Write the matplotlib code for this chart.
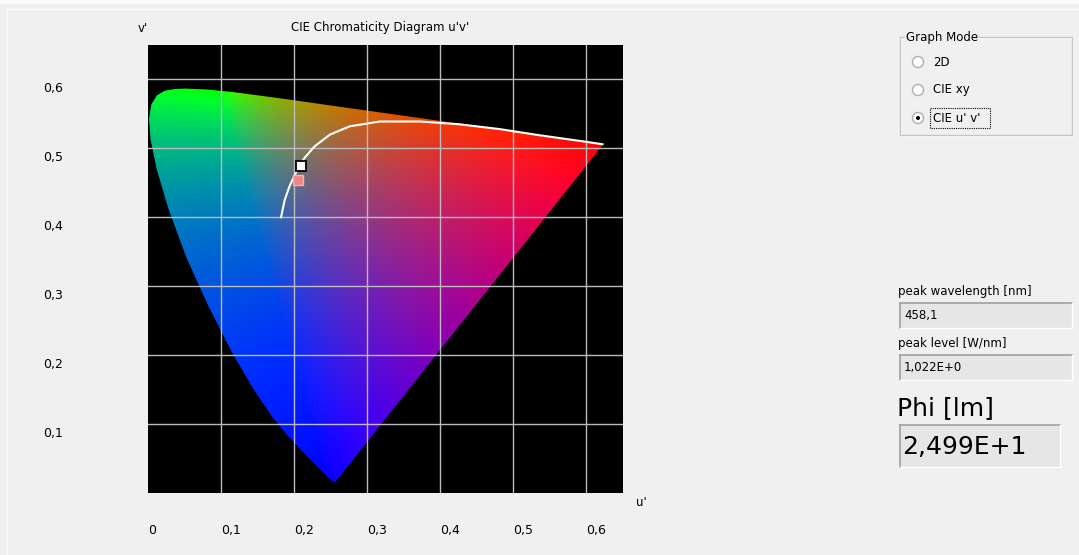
import numpy as np
import matplotlib.pyplot as plt
from matplotlib.path import Path
from matplotlib.patches import PathPatch, Rectangle, Circle
from matplotlib.transforms import ScaledTranslation

# ---------------------------------------------------------------------------------------------------------------
# daten

# spektralzug in u'v' (380 nm ... 700 nm)
locus_u = [0.2568, 0.2557, 0.2522, 0.2461, 0.2347, 0.2161, 0.1877, 0.1690, 0.1441, 0.1147, 0.0828, 0.0521,
           0.0282, 0.0119, 0.0035, 0.0014, 0.0046, 0.0123, 0.0231, 0.0360, 0.0501, 0.0792, 0.1127, 0.1531,
           0.2026, 0.2623, 0.3315, 0.4035, 0.5203, 0.6005, 0.6234]
locus_v = [0.0166, 0.0159, 0.0169, 0.0226, 0.0350, 0.0549, 0.0871, 0.1119, 0.1510, 0.2044, 0.2708, 0.3427,
           0.4117, 0.4698, 0.5131, 0.5431, 0.5638, 0.5770, 0.5837, 0.5861, 0.5868, 0.5856, 0.5821, 0.5766,
           0.5694, 0.5604, 0.5501, 0.5393, 0.5219, 0.5099, 0.5065]

# planckscher kurvenzug (weisse linie)
planck_u = [0.182, 0.187, 0.194, 0.204, 0.214, 0.228, 0.249, 0.276, 0.317, 0.372, 0.426, 0.481, 0.536, 0.590, 0.622]
planck_v = [0.400, 0.425, 0.446, 0.468, 0.486, 0.503, 0.520, 0.532, 0.539, 0.539, 0.535, 0.528, 0.519, 0.511, 0.506]

# messpunkt (weiss) und referenzpunkt (rosa)
punkt_u, punkt_v = 0.210, 0.474
ref_u, ref_v = 0.205, 0.454

# achsen
u_ticks = [0, 0.1, 0.2, 0.3, 0.4, 0.5, 0.6]
u_labels = ["0", "0,1", "0,2", "0,3", "0,4", "0,5", "0,6"]
v_ticks = [0.1, 0.2, 0.3, 0.4, 0.5, 0.6]
v_labels = ["0,1", "0,2", "0,3", "0,4", "0,5", "0,6"]
achsen_max = 0.65

# rechte seite
modi = ["2D", "CIE xy", "CIE u' v'"]
modus_aktiv = 2
felder = ["peak wavelength [nm]", "peak level [W/nm]"]
feld_werte = ["458,1", "1,022E+0"]
phi_titel = "Phi [lm]"
phi_wert = "2,499E+1"

# ---------------------------------------------------------------------------------------------------------------
# farbfeld u'v' -> xy -> XYZ -> CIE rgb

n = 600
uu, vv = np.meshgrid(np.linspace(0, achsen_max, n), np.linspace(0, achsen_max, n))
nenner = 6 * uu - 16 * vv + 12
x = 9 * uu / nenner
y = np.maximum(4 * vv / nenner, 1e-6)
XYZ = np.stack([x / y, np.ones_like(x), (1 - x - y) / y])
M = np.array([[2.3646, -0.8965, -0.4681],
              [-0.5152, 1.4264, 0.0888],
              [0.0052, -0.0144, 1.0092]])
rgb = np.einsum('ij,jkl->kli', M, XYZ)
rgb = np.clip(rgb, 0, None)
rgb = rgb / (rgb.sum(axis=2, keepdims=True) + 1e-9)
rgb = np.clip(1.1 * rgb ** (1 / 1.2), 0, 1)

# ---------------------------------------------------------------------------------------------------------------
# figur

fig = plt.figure(figsize=(10.79, 5.55), dpi=100, facecolor='#f0f0f0')
plt.rcParams['font.family'] = 'DejaVu Sans'

# oberflaeche in pixelkoordinaten
ui = fig.add_axes([0, 0, 1, 1])
ui.set_xlim(0, 1079)
ui.set_ylim(555, 0)
ui.axis('off')
ui.add_patch(Rectangle((0, 0), 1079, 4, fc='#fbfbfb', ec='none'))
ui.plot([7, 1079], [9, 9], color='#fbfbfb', lw=1)
ui.plot([7, 7], [9, 555], color='#fbfbfb', lw=1)

ui.text(143, 28, "v'", ha='center', va='center', fontsize=8.5)
ui.text(380, 28, "CIE Chromaticity Diagram u'v'", ha='center', va='center', fontsize=8.5)
ui.text(641, 503, "u'", ha='center', va='center', fontsize=8.5)

# diagramm
ax = fig.add_axes([148 / 1079, 1 - 493 / 555, (623 - 148) / 1079, (493 - 45) / 555])
ax.set_facecolor('black')
for s in ax.spines.values():
    s.set_visible(False)
ax.set_xlim(0, achsen_max)
ax.set_ylim(0, achsen_max)

bild = ax.imshow(rgb, origin='lower', extent=[0, achsen_max, 0, achsen_max], aspect='auto',
                 interpolation='bilinear', zorder=1)
rand = PathPatch(Path(np.column_stack([locus_u, locus_v]), closed=False), fc='none', ec='none',
                 transform=ax.transData)
ax.add_patch(rand)
bild.set_clip_path(rand)

for u in u_ticks[1:]:
    ax.axvline(u, color='#bcbcbc', lw=1, zorder=2)
for v in v_ticks:
    ax.axhline(v, color='#bcbcbc', lw=1, zorder=2)

ax.plot(planck_u, planck_v, color='white', lw=1.5, zorder=3)
ax.plot(ref_u, ref_v, 's', ms=7, mfc='#f08585', mec='#f5b0b0', mew=1, zorder=4)
ax.plot(punkt_u, punkt_v, 's', ms=7.5, mfc='white', mec='black', mew=1.3, zorder=5)

ax.set_xticks(u_ticks, u_labels)
ax.set_yticks(v_ticks, v_labels)
ax.tick_params(axis='x', length=0, pad=22, labelsize=9)
ax.tick_params(axis='y', length=0, pad=61, labelsize=9)
for lbl in ax.get_xticklabels():
    lbl.set_ha('left')
verschiebung = ScaledTranslation(0, -2 / 72, fig.dpi_scale_trans)
for lbl in ax.get_yticklabels():
    lbl.set_va('top')
    lbl.set_transform(lbl.get_transform() + verschiebung)

# ---------------------------------------------------------------------------------------------------------------
# graph mode gruppe

ui.add_patch(Rectangle((901, 38), 172, 98, fill=False, ec='white', lw=1))
ui.add_patch(Rectangle((900, 37), 172, 98, fill=False, ec='#c4c4c4', lw=1))
ui.text(906, 37, "Graph Mode", ha='left', va='center', fontsize=8.5,
        bbox=dict(fc='#f0f0f0', ec='none', pad=0.5))

for i in range(0, len(modi)):
    ypos = 62 + i * 28
    ui.add_patch(Circle((918, ypos), 5.5, fc='white', ec='#b0b0b0', lw=1))
    if i == modus_aktiv:
        ui.add_patch(Circle((918, ypos), 2, fc='black', ec='none'))
        ui.add_patch(Rectangle((930, ypos - 10), 60, 20, fill=False, ec='black', lw=0.8, ls=(0, (1, 1))))
    ui.text(933, ypos, modi[i], ha='left', va='center', fontsize=8.5)

# ---------------------------------------------------------------------------------------------------------------
# anzeigefelder


def feld(x0, y0, x1, y1):
    ui.add_patch(Rectangle((x0, y0), x1 - x0, y1 - y0, fc='#e6e6e6', ec='none'))
    ui.plot([x0, x1], [y0, y0], color='#a0a0a0', lw=1.2)
    ui.plot([x0, x0], [y0, y1], color='#a0a0a0', lw=1.2)
    ui.plot([x0, x1], [y1, y1], color='white', lw=1)
    ui.plot([x1, x1], [y0, y1], color='white', lw=1)


for i in range(0, len(felder)):
    y0 = 303 + i * 52
    ui.text(898, y0 - 11, felder[i], ha='left', va='center', fontsize=8.5)
    feld(900, y0, 1072, y0 + 25)
    ui.text(904, y0 + 13, feld_werte[i], ha='left', va='center', fontsize=8.5)

ui.text(897, 408, phi_titel, ha='left', va='center', fontsize=18)
feld(900, 425, 1060, 467)
ui.text(902, 447, phi_wert, ha='left', va='center', fontsize=18)

plt.savefig("out.png", dpi=100, facecolor=fig.get_facecolor())
